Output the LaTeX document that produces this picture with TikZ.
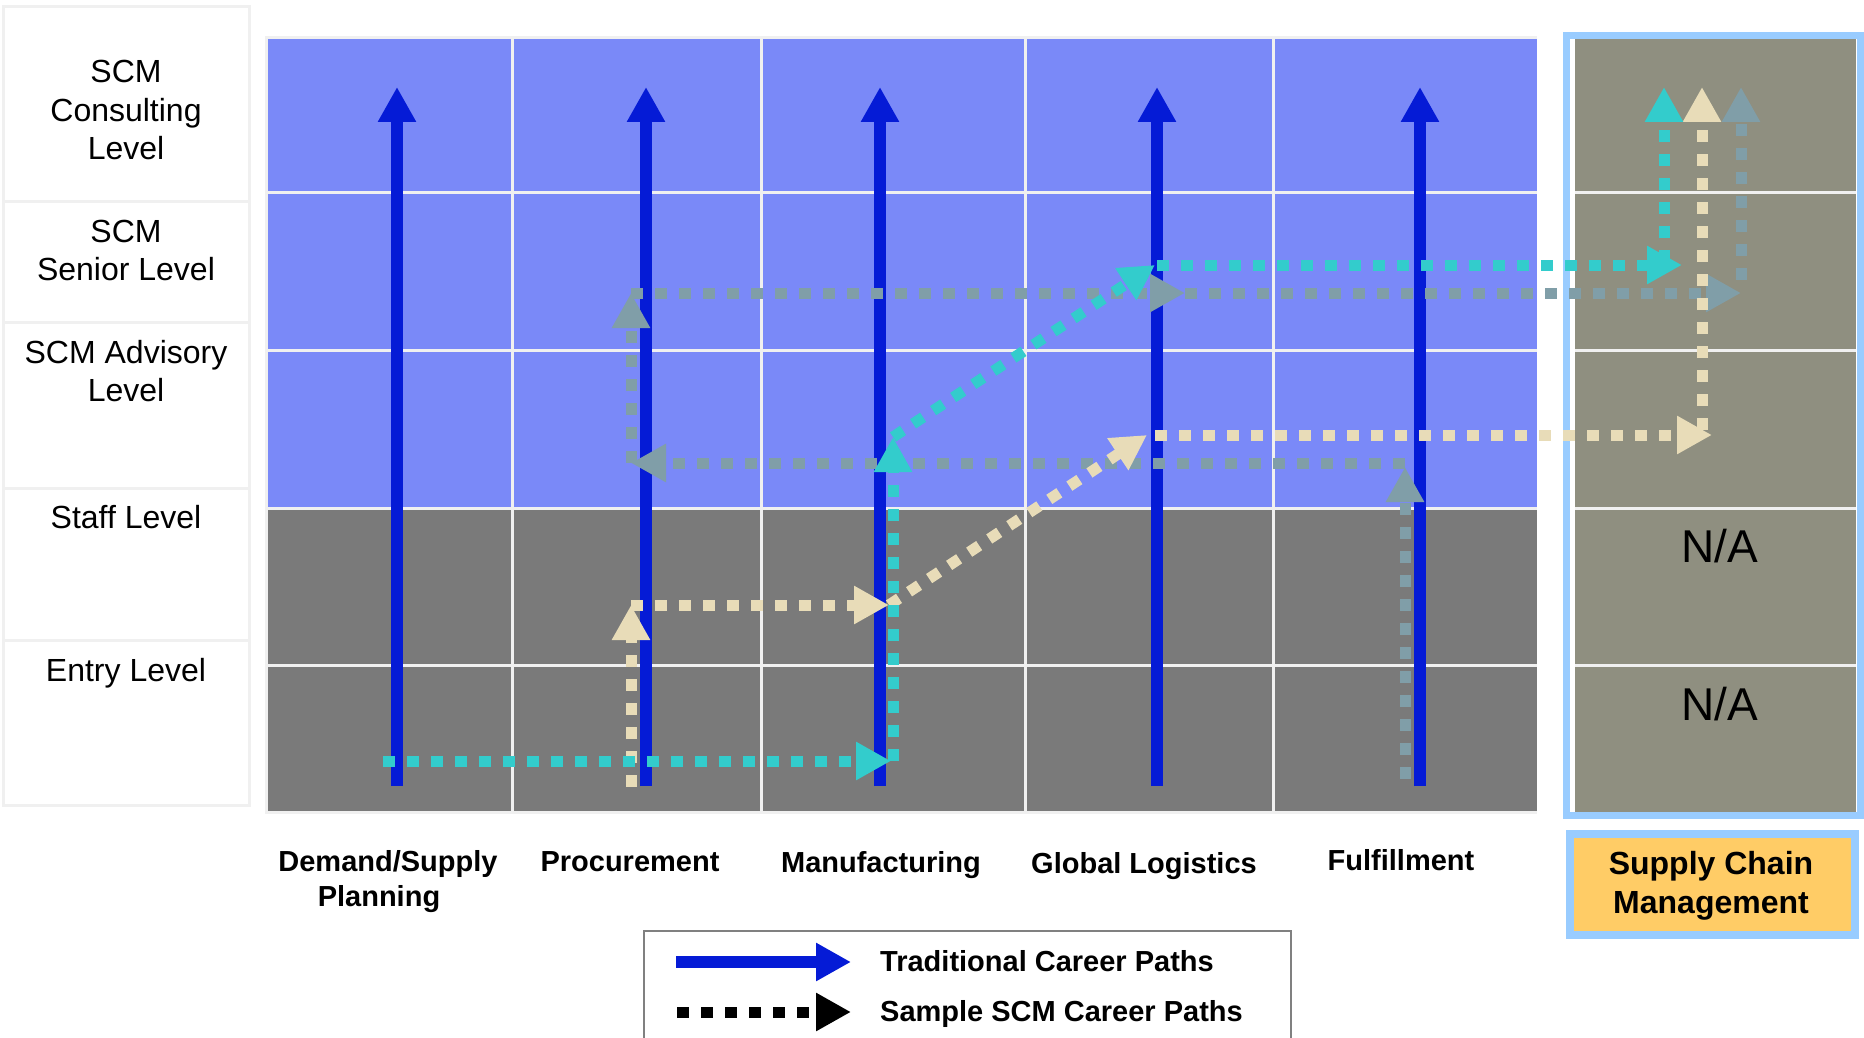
\documentclass[tikz,border=0pt]{standalone}
\usepackage{fontspec}
\setmainfont{Liberation Sans}
\usetikzlibrary{arrows.meta}
\definecolor{gridblue}{RGB}{122,137,248}
\definecolor{gridgray}{RGB}{122,122,122}
\definecolor{scmgray}{RGB}{143,143,128}
\definecolor{tradblue}{RGB}{5,27,214}
\definecolor{tealc}{RGB}{51,204,204}
\definecolor{beigec}{RGB}{232,220,184}
\definecolor{slatec}{RGB}{128,158,168}
\definecolor{scmborder}{RGB}{153,204,255}
\definecolor{orangec}{RGB}{255,204,102}
\definecolor{lineg}{RGB}{240,240,240}
\definecolor{legborder}{RGB}{128,128,128}
\begin{document}
\begin{tikzpicture}[x=1pt,y=-1pt,
  tradarrow/.style={draw=tradblue,line width=12.5pt,-{Triangle[length=35pt,width=36pt]}},
  scmpath/.style={line width=11pt,dash pattern=on 12pt off 12pt,-{Triangle[length=35pt,width=36pt]}},
  lvl/.style={font=\fontsize{32}{38}\selectfont,inner sep=0pt,anchor=base},
  collbl/.style={font=\fontsize{29}{35}\selectfont\bfseries,inner sep=0pt,anchor=base},
  legtxt/.style={font=\fontsize{29}{35}\selectfont\bfseries,inner sep=0pt,anchor=base west},
  natxt/.style={font=\fontsize{46}{50}\selectfont,inner sep=0pt,anchor=base},
  scmtxt/.style={font=\fontsize{32}{38}\selectfont\bfseries,inner sep=0pt,anchor=base},
  rowbox/.style={draw=lineg,line width=3pt,fill=white},
  gline/.style={draw=lineg,line width=3pt}]
\useasboundingbox (0,0) rectangle (1864,1038);
\clip (0,0) rectangle (1864,1038);
\fill[white] (0,0) rectangle (1864,1038);

% level label column
\draw[rowbox] (3.5,6.5) rectangle (249,201);
\draw[rowbox] (3.5,201) rectangle (249,322);
\draw[rowbox] (3.5,322) rectangle (249,488);
\draw[rowbox] (3.5,488) rectangle (249,640);
\draw[rowbox] (3.5,640) rectangle (249,805);
\node[lvl] (l1a) at (126,83) {SCM};
\node[lvl] (l1b) at (126,122) {Consulting};
\node[lvl] (l1c) at (126,160) {Level};
\node[lvl] (l2a) at (126,242) {SCM};
\node[lvl] (l2b) at (126,280) {Senior Level};
\node[lvl] (l3a) at (126,363) {SCM Advisory};
\node[lvl] (l3b) at (126,401) {Level};
\node[lvl] (l4) at (126,528) {Staff Level};
\node[lvl] (l5) at (126,681) {Entry Level};

% main grid
\fill[gridblue] (266,38) rectangle (1537,508);
\fill[gridgray] (266,508) rectangle (1537,812);
\foreach \gx in {512,761,1025,1273} \draw[gline] (\gx,38) -- (\gx,812);
\foreach \gy in {192,350,508,665} \draw[gline] (266,\gy) -- (1537,\gy);
\draw[gline] (1537,38) -- (266,38) -- (266,812) -- (1537,812);

% SCM column
\draw[draw=scmborder,line width=7pt,fill=white] (1566.5,35.5) rectangle (1860.5,815);
\fill[scmgray] (1575,39) rectangle (1856,812);
\foreach \gy in {192,350,508,665} \draw[gline] (1575,\gy) -- (1856,\gy);
\node[natxt] (na1) at (1720,562) {N/A};
\node[natxt] (na2) at (1720,720) {N/A};

% column labels
\node[collbl] (c1a) at (388,871) {Demand/Supply};
\node[collbl] (c1b) at (379,906) {Planning};
\node[collbl] (c2) at (630,871) {Procurement};
\node[collbl] (c3) at (881,872) {Manufacturing};
\node[collbl] (c4) at (1144,873) {Global Logistics};
\node[collbl] (c5) at (1401,870) {Fulfillment};

% Supply Chain Management box
\draw[draw=scmborder,line width=8pt,fill=orangec] (1570,834) rectangle (1855,935);
\node[scmtxt] (scm1) at (1711,874) {Supply Chain};
\node[scmtxt] (scm2) at (1711,913) {Management};

% traditional career arrows
\foreach \bx/\bn in {397/b1,646/b2,880/b3,1157/b4,1420/b5} {
  \coordinate (\bn s) at (\bx,786);
  \coordinate (\bn e) at (\bx,87);
  \draw[tradarrow] (\bn s) -- (\bn e);
}

% slate sample path
\coordinate (g1) at (1405,779);
\coordinate (g2) at (1405,467);
\coordinate (g3) at (1405,463);
\coordinate (g4) at (631,463);
\coordinate (g5) at (631,293);
\coordinate (g6) at (1185,293);
\coordinate (g7) at (1741,293);
\coordinate (g8) at (1741,280);
\coordinate (g9) at (1741,87);
\draw[scmpath,slatec] (g1) -- (g2);
\draw[scmpath,slatec] (g3) -- (g4);
\draw[scmpath,slatec] (g4) -- (g5);
\draw[scmpath,slatec] (g5) -- (g6);
\draw[scmpath,slatec] (g6) -- (g7);
\draw[scmpath,slatec] (g8) -- (g9);

% beige sample path
\coordinate (e1) at (631,787);
\coordinate (e2) at (631,605);
\coordinate (e3) at (889,605);
\coordinate (e4) at (1147,435);
\coordinate (e5) at (1155,435);
\coordinate (e6) at (1712,435);
\coordinate (e7) at (1702,430);
\coordinate (e8) at (1702,87);
\draw[scmpath,beigec] (e1) -- (e2);
\draw[scmpath,beigec] (e2) -- (e3);
\draw[scmpath,beigec] (e3) -- (e4);
\draw[scmpath,beigec] (e5) -- (e6);
\draw[scmpath,beigec] (e7) -- (e8);

% teal sample path
\coordinate (t1) at (383,761);
\coordinate (t2) at (891,761);
\coordinate (t3) at (893,761);
\coordinate (t4) at (893,437);
\coordinate (t5) at (1155,265);
\coordinate (t6) at (1157,265);
\coordinate (t7) at (1682,265);
\coordinate (t8) at (1664,262);
\coordinate (t9) at (1664,87);
\draw[scmpath,tealc] (t1) -- (t2);
\draw[scmpath,tealc] (t3) -- (t4);
\draw[scmpath,tealc] (t4) -- (t5);
\draw[scmpath,tealc] (t6) -- (t7);
\draw[scmpath,tealc] (t8) -- (t9);

% legend
\draw[draw=legborder,line width=2.5pt,fill=white] (644,931) rectangle (1291,1060);
\coordinate (lg1s) at (676,962);
\coordinate (lg1e) at (851,962);
\coordinate (lg2s) at (677,1012);
\coordinate (lg2e) at (851,1012);
\draw[tradarrow] (lg1s) -- (lg1e);
\draw[scmpath,black] (lg2s) -- (lg2e);
\node[legtxt] (lt1) at (880,971) {Traditional Career Paths};
\node[legtxt] (lt2) at (880,1021) {Sample SCM Career Paths};
\end{tikzpicture}
\end{document}
